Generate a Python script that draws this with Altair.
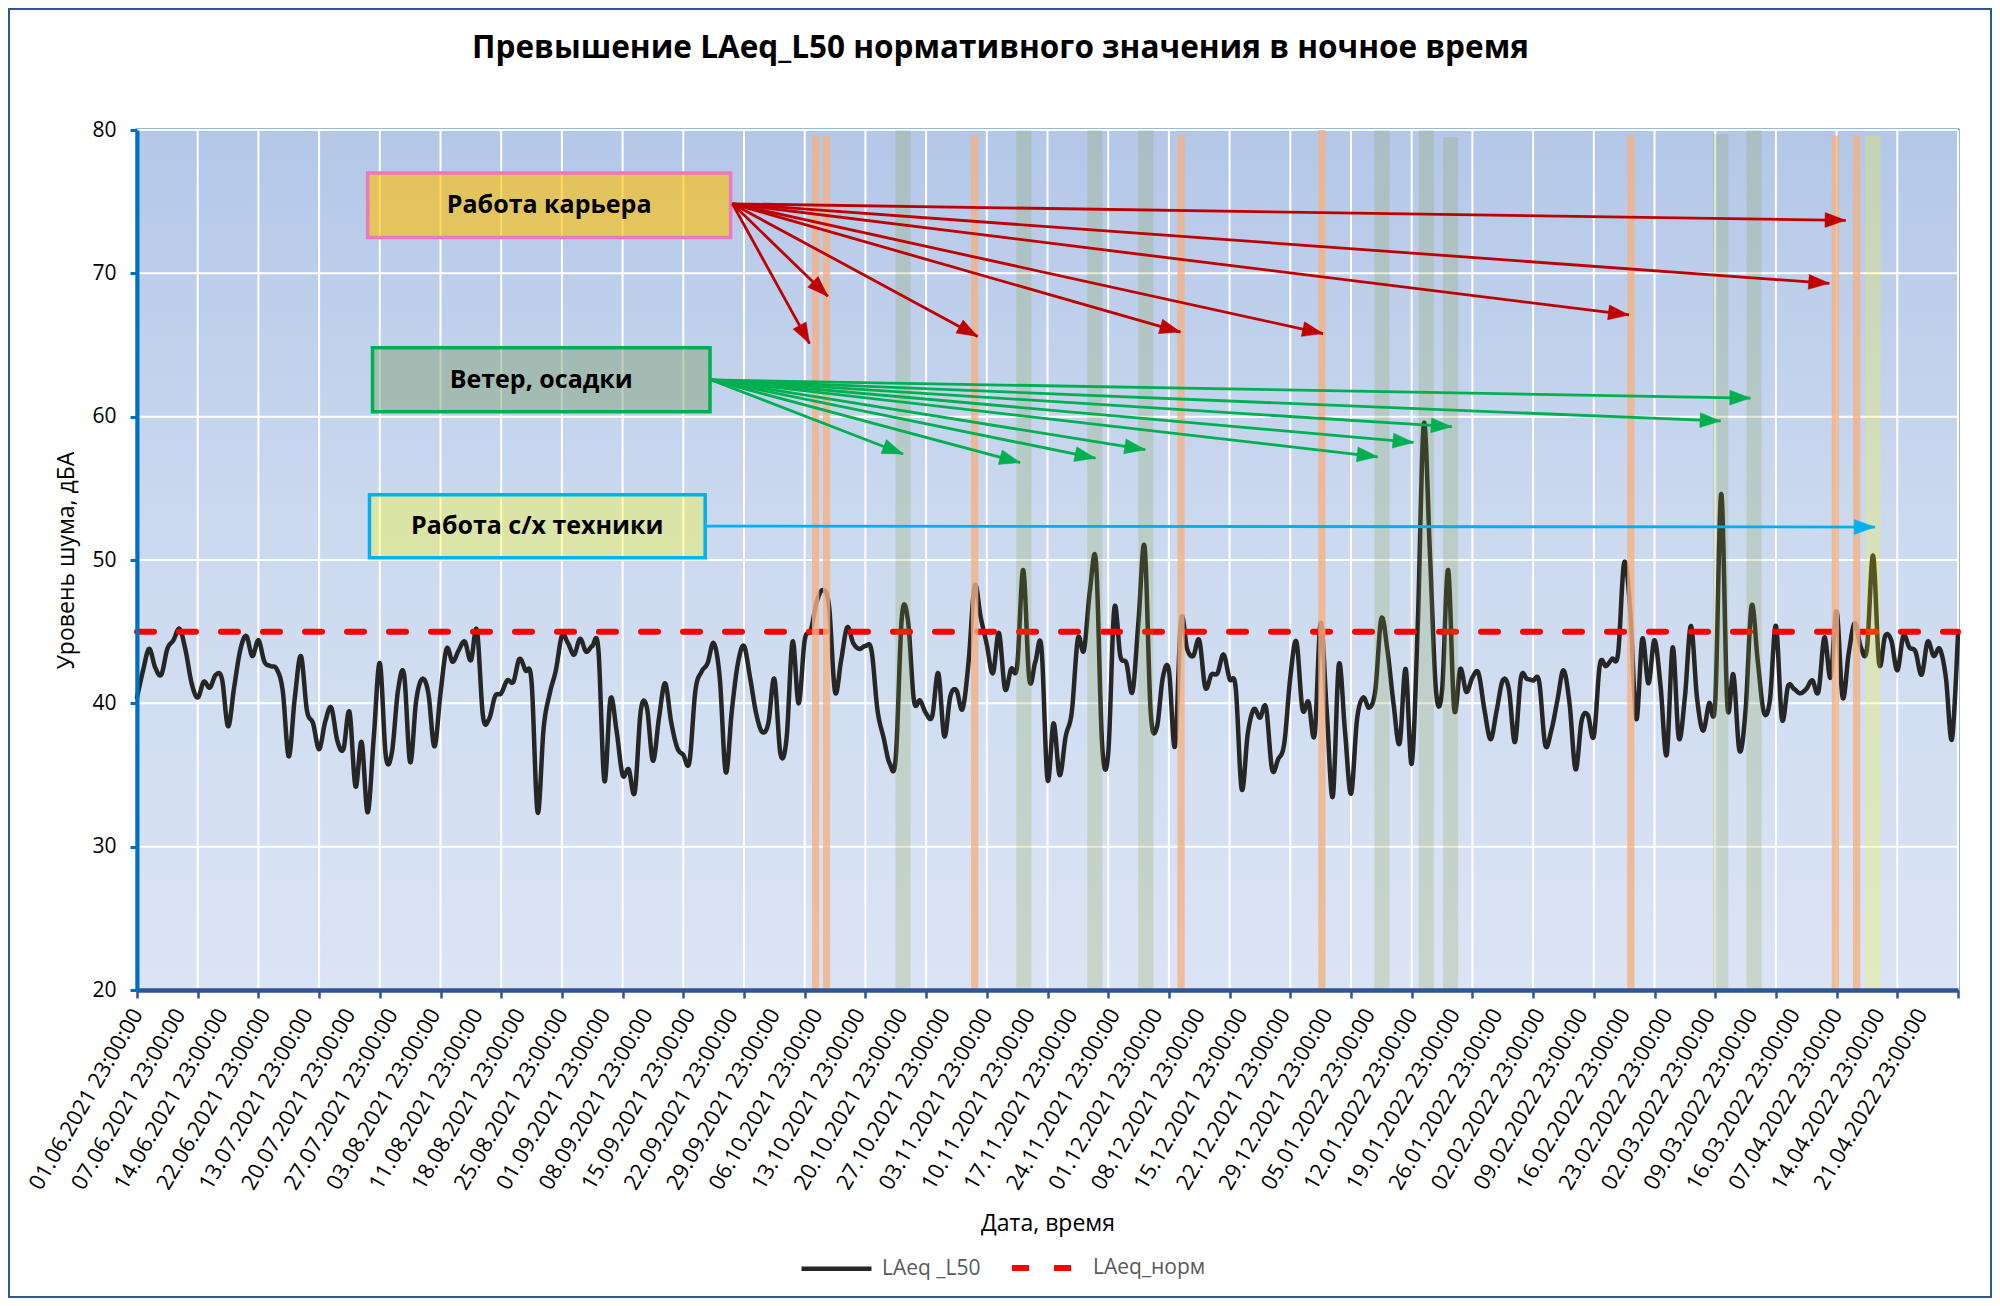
import json
import math
import altair as alt
import pandas as pd

# ---------------- data ----------------
L50 = [
    40.4, 42.3, 43.8, 42.5, 42.0, 43.8, 44.4, 45.2, 43.7, 41.4,
    40.4, 41.5, 41.1, 42.0, 41.7, 38.4, 41.1, 43.7, 44.7, 43.3,
    44.4, 42.9, 42.6, 42.4, 40.9, 36.3, 40.4, 43.3, 39.5, 38.6,
    36.8, 38.7, 39.7, 37.4, 36.8, 39.4, 34.2, 37.3, 32.4, 37.6,
    42.8, 36.3, 36.6, 40.9, 42.0, 35.9, 40.2, 41.7, 40.7, 37.0,
    40.7, 43.8, 42.9, 43.7, 44.3, 43.0, 45.1, 39.1, 38.9, 40.5,
    40.7, 41.6, 41.5, 43.1, 42.3, 41.5, 32.4, 38.3, 40.7, 42.3,
    44.7, 44.2, 43.4, 44.5, 43.6, 44.0, 43.8, 34.6, 40.3, 38.1,
    35.0, 35.4, 33.8, 39.5, 39.7, 36.0, 39.0, 41.4, 38.7, 36.9,
    36.4, 35.9, 40.9, 42.2, 42.8, 44.2, 41.8, 35.2, 39.5, 42.8,
    44.0, 41.8, 39.3, 38.0, 38.6, 41.7, 36.5, 37.5, 44.3, 40.0,
    44.4, 45.1, 47.1, 47.9, 46.8, 40.8, 43.0, 45.3, 44.2, 43.8,
    44.0, 43.7, 39.5, 37.6, 35.8, 36.2, 46.0, 45.8, 40.2, 40.2,
    39.3, 39.1, 42.1, 37.7, 40.5, 40.9, 39.6, 42.9, 48.2, 46.0,
    44.1, 42.1, 44.9, 41.0, 42.4, 42.6, 49.3, 41.7, 42.9, 43.9,
    34.7, 38.6, 35.0, 37.7, 39.4, 44.5, 43.7, 47.9, 49.8, 37.1,
    36.5, 46.6, 43.3, 42.8, 40.8, 45.8, 50.9, 39.4, 38.3, 41.8,
    42.3, 37.0, 45.8, 43.8, 43.3, 44.4, 41.1, 42.0, 42.1, 43.4,
    41.7, 41.1, 34.0, 37.9, 39.6, 39.0, 39.7, 35.4, 36.1, 37.2,
    41.8, 44.3, 39.6, 40.1, 37.8, 45.6, 39.5, 33.5, 42.7, 38.1,
    33.7, 38.9, 40.4, 39.7, 40.9, 45.9, 43.7, 40.0, 37.2, 42.4,
    35.8, 45.5, 59.5, 50.5, 40.9, 40.9, 49.3, 39.6, 42.4, 40.8,
    41.8, 42.1, 39.5, 37.5, 39.5, 41.6, 41.0, 37.3, 41.8, 41.7,
    41.6, 41.5, 37.1, 38.1, 40.2, 42.3, 40.0, 35.4, 38.8, 39.2,
    37.7, 42.7, 42.6, 43.1, 43.5, 49.8, 46.5, 38.9, 44.5, 41.4,
    44.4, 41.2, 36.4, 43.9, 37.6, 40.4, 45.4, 40.4, 38.1, 40.0,
    40.1, 54.6, 39.9, 42.0, 36.7, 39.5, 46.8, 43.0, 39.4, 40.2,
    45.4, 38.9, 41.2, 41.0, 40.7, 41.0, 41.6, 40.8, 44.6, 41.8,
    46.4, 40.4, 43.5, 45.6, 43.9, 43.8, 50.3, 42.8, 44.7, 44.4,
    42.3, 44.7, 43.9, 43.6, 42.0, 44.3, 43.3, 43.8, 41.8, 37.5,
    44.9,
]
NORM_VALUE = 45
SERIES = ["LAeq _L50", "LAeq_норм"]

X_LABEL_DATES = [
    "01.06.2021", "07.06.2021", "14.06.2021", "22.06.2021", "13.07.2021",
    "20.07.2021", "27.07.2021", "03.08.2021", "11.08.2021", "18.08.2021",
    "25.08.2021", "01.09.2021", "08.09.2021", "15.09.2021", "22.09.2021",
    "29.09.2021", "06.10.2021", "13.10.2021", "20.10.2021", "27.10.2021",
    "03.11.2021", "10.11.2021", "17.11.2021", "24.11.2021", "01.12.2021",
    "08.12.2021", "15.12.2021", "22.12.2021", "29.12.2021", "05.01.2022",
    "12.01.2022", "19.01.2022", "26.01.2022", "02.02.2022", "09.02.2022",
    "16.02.2022", "23.02.2022", "02.03.2022", "09.03.2022", "16.03.2022",
    "07.04.2022", "14.04.2022", "21.04.2022",
]
X_LABEL_TIME = "23:00:00"
LABEL_STEP = 7
GRID_X = list(range(0, 301, 10))
Y_TICKS = [20, 30, 40, 50, 60, 70, 80]

# event bands (category position, top value)
ORANGE_X = [111.8, 113.6, 138.0, 172.0, 195.2, 246.1, 279.8, 283.3]
ORANGE_TOP = [79.6, 79.6, 79.6, 79.6, 80.0, 79.6, 79.6, 79.6]
GREEN_X = [126.2, 146.1, 157.8, 166.2, 205.1, 212.4, 216.4, 260.9, 266.4]
GREEN_TOP = [80.0, 80.0, 80.0, 80.0, 80.0, 80.0, 79.5, 79.7, 80.0]
YELLOW_X = [286.0]
YELLOW_TOP = [79.6]

# annotation boxes (data coordinates)
BOX_TEXT = ["Работа карьера", "Ветер, осадки", "Работа с/х техники"]
BOX_X1 = [38.0, 38.8, 38.3]
BOX_X2 = [97.8, 94.4, 93.6]
BOX_Y1 = [72.5, 60.35, 50.15]
BOX_Y2 = [77.0, 64.8, 54.55]

# arrows (data coordinates)
RED_FROM = [98.1, 74.85]
RED_TO_X = [110.8, 113.8, 138.5, 171.9, 195.4, 245.8, 278.8, 281.5]
RED_TO_Y = [65.1, 68.4, 65.6, 65.9, 65.8, 67.1, 69.3, 73.7]
GREEN_FROM = [94.6, 62.56]
GREEN_TO_X = [126.2, 145.5, 157.9, 166.1, 204.4, 210.3, 216.6, 260.9, 265.8]
GREEN_TO_Y = [57.4, 56.8, 57.1, 57.7, 57.2, 58.2, 59.3, 59.7, 61.3]
BLUE_FROM = [93.9, 52.37]
BLUE_TO_X = [286.3]
BLUE_TO_Y = [52.3]

# ---------------- layout / style ----------------
FONT = "Open Sans"
W, H = 1821, 860
PAD = {"left": 129, "top": 122, "right": 34, "bottom": 308}
X_MAX = len(L50) - 1
XS = alt.Scale(domain=[0, X_MAX], nice=False, zero=False)
YS = alt.Scale(domain=[Y_TICKS[0], Y_TICKS[-1]], nice=False, zero=False)

labels_full = [d + " " + X_LABEL_TIME for d in X_LABEL_DATES]

x_axis = alt.Axis(
    values=list(range(0, X_MAX + 1)), tickCount=1000,
    labelExpr=f"datum.value % {LABEL_STEP} === 0 ? {json.dumps(labels_full)}[datum.value / {LABEL_STEP}] : ''",
    labelAngle=300, labelAlign="right", labelBaseline="middle",
    labelOverlap=False, labelBound=False, labelFlush=False, labelLimit=500,
    labelPadding=12, labelFont=FONT, labelFontSize=22, labelColor="#000000",
    tickSize=8, tickWidth=2.5, tickColor="#2f5597",
    tickOpacity={"condition": {"test": "datum.value % 10 === 0", "value": 1}, "value": 0},
    domainColor="#2f5597", domainWidth=4.5, grid=False,
    title="Дата, время", titleFont=FONT, titleFontSize=23, titleFontWeight="normal",
    titleColor="#000000", titleY=233, titleX=W / 2, titleBaseline="middle", titleAlign="center",
    zindex=1,
)
y_axis = alt.Axis(
    values=Y_TICKS, tickSize=7, tickWidth=3, tickColor="#0070c0",
    domainColor="#0070c0", domainWidth=4, grid=False,
    labelFont=FONT, labelFontSize=21, labelPadding=14, labelColor="#000000",
    title="Уровень шума, дБА", titleFont=FONT, titleFontSize=23, titleFontWeight="normal",
    titleColor="#000000", titleAngle=270, titleX=-71, titleY=H / 2,
    titleBaseline="middle", titleAlign="center", zindex=1,
)


def X(field):
    return alt.X(field, scale=XS)


def Y(field):
    return alt.Y(field, scale=YS)


# background gradient (carries the axes)
bg = alt.Chart(pd.DataFrame({"x0": [0], "x1": [X_MAX], "y0": [Y_TICKS[0]], "y1": [Y_TICKS[-1]]})).mark_rect(
    fill=alt.LinearGradient(
        gradient="linear",
        stops=[alt.GradientStop(color="#b3c7e8", offset=0),
               alt.GradientStop(color="#cbd9ef", offset=0.45),
               alt.GradientStop(color="#dbe4f4", offset=1)],
        x1=0, x2=0, y1=0, y2=1),
    strokeWidth=0,
).encode(x=alt.X("x0:Q", scale=XS, axis=x_axis), x2="x1:Q",
         y=alt.Y("y0:Q", scale=YS, axis=y_axis), y2="y1:Q")

grid_x = alt.Chart(pd.DataFrame({"g": GRID_X})).mark_rule(color="white", strokeWidth=2).encode(
    x=X("g:Q"))
grid_y = alt.Chart(pd.DataFrame({"g": Y_TICKS})).mark_rule(color="white", strokeWidth=2).encode(
    y=Y("g:Q"))

# lines
rows = []
for i, v in enumerate(L50):
    rows.append({"x": i, "v": v, "series": SERIES[0]})
for i in range(len(L50)):
    rows.append({"x": i, "v": NORM_VALUE, "series": SERIES[1]})
df_line = pd.DataFrame(rows)

legend = alt.Legend(
    orient="none", legendX=662, legendY=1100, direction="horizontal", title=None,
    symbolType="stroke", symbolSize=4900, symbolStrokeWidth=5,
    labelFont=FONT, labelFontSize=21, labelColor="#595959",
    columnPadding=19, labelOffset=8,
)
lines = alt.Chart(df_line).mark_line(interpolate="cardinal", strokeCap="round", strokeJoin="round").encode(
    x=X("x:Q"),
    y=Y("v:Q"),
    color=alt.Color("series:N", scale=alt.Scale(domain=SERIES, range=["#262626", "#ff0000"]), legend=legend),
    strokeDash=alt.StrokeDash("series:N", scale=alt.Scale(domain=SERIES, range=[[1, 0], [17, 25]]), legend=legend),
    strokeWidth=alt.StrokeWidth("series:N", scale=alt.Scale(domain=SERIES, range=[4.5, 6]), legend=None),
)


def band_layer(centers, tops, half, color, opacity):
    d = pd.DataFrame({
        "b1": [c - half for c in centers],
        "b2": [c + half for c in centers],
        "base": [Y_TICKS[0]] * len(centers),
        "top": tops,
    })
    return alt.Chart(d).mark_rect(fill=color, opacity=opacity, strokeWidth=0).encode(
        x=X("b1:Q"), x2="b2:Q", y=Y("base:Q"), y2="top:Q")


bands = [
    band_layer(GREEN_X, GREEN_TOP, 1.25, "#82a03c", 0.22),
    band_layer(YELLOW_X, YELLOW_TOP, 1.25, "#ffff00", 0.22),
    band_layer(ORANGE_X, ORANGE_TOP, 0.6, "#f4b183", 0.8),
]

BOX_STYLE = [
    {"fill": "#ffc000", "fo": 0.6, "stroke": "#ee78be"},
    {"fill": "#84a37a", "fo": 0.5, "stroke": "#00b050"},
    {"fill": "#ffff00", "fo": 0.3, "stroke": "#00b0f0"},
]
boxes = []
for k in range(len(BOX_TEXT)):
    d = pd.DataFrame({"x1": [BOX_X1[k]], "x2": [BOX_X2[k]], "y1": [BOX_Y1[k]], "y2": [BOX_Y2[k]],
                      "xc": [(BOX_X1[k] + BOX_X2[k]) / 2], "yc": [(BOX_Y1[k] + BOX_Y2[k]) / 2],
                      "t": [BOX_TEXT[k]]})
    st = BOX_STYLE[k]
    boxes.append(alt.Chart(d).mark_rect(fill=st["fill"], fillOpacity=st["fo"], stroke=st["stroke"],
                                        strokeWidth=3.5).encode(
        x=X("x1:Q"), x2="x2:Q", y=Y("y1:Q"), y2="y2:Q"))
    boxes.append(alt.Chart(d).mark_text(font=FONT, fontSize=25, fontWeight="bold", color="#000000",
                                        align="center", baseline="middle").encode(
        x=X("xc:Q"), y=Y("yc:Q"), text="t:N"))

ARROW_PATH = "M0,0L-1,-0.36L-1,0.36Z"
PX_X = W / X_MAX
PX_Y = H / (Y_TICKS[-1] - Y_TICKS[0])


def arrow_layers(start, tx, ty, color):
    d = pd.DataFrame({"xf": [start[0]] * len(tx), "yf": [start[1]] * len(tx), "xt": tx, "yt": ty})
    d["ang"] = [
        math.degrees(math.atan2(-(yt - start[1]) * PX_Y, (xt - start[0]) * PX_X)) % 360
        for xt, yt in zip(tx, ty)
    ]
    ln = alt.Chart(d).mark_rule(color=color, strokeWidth=2.8).encode(
        x=X("xf:Q"), y=Y("yf:Q"), x2="xt:Q", y2="yt:Q")
    hd = alt.Chart(d).mark_point(shape=ARROW_PATH, size=1700, filled=True, fill=color,
                                 stroke=color, strokeWidth=0.5, opacity=1).encode(
        x=X("xt:Q"), y=Y("yt:Q"), angle=alt.Angle("ang:Q", scale=None))
    return [ln, hd]


arrows = (arrow_layers(RED_FROM, RED_TO_X, RED_TO_Y, "#c00000")
          + arrow_layers(GREEN_FROM, GREEN_TO_X, GREEN_TO_Y, "#00b050")
          + arrow_layers(BLUE_FROM, BLUE_TO_X, BLUE_TO_Y, "#00b0f0"))

FRAME_TOP = -PAD["top"] + 1
frame = alt.Chart(pd.DataFrame({"a": [0]})).mark_rect(fillOpacity=0, stroke="#2f5597", strokeWidth=2).encode(
    x=alt.value(-PAD["left"] + 1), x2=alt.value(W + PAD["right"] - 1),
    y=alt.value(FRAME_TOP), y2=alt.value(H + PAD["bottom"] - 1))

# the title is placed relative to the top of all mark bounds (the frame),
# so its offset is negative (measured downwards from that edge)
title_offset = -81

chart = alt.layer(
    bg, grid_x, grid_y, lines, *bands, *boxes, *arrows, frame
).properties(
    width=W, height=H,
    title=alt.TitleParams(
        "Превышение LAeq_L50 нормативного значения в ночное время",
        font=FONT, fontSize=31.5, fontWeight="bold", color="#000000",
        anchor="middle", frame="group", dx=-47, offset=title_offset, baseline="alphabetic"),
    autosize=alt.AutoSizeParams(type="none"),
    padding=PAD,
    background="white",
).configure_view(stroke="#2e75b6", strokeWidth=3)

chart.save("out.html", embed_options={"renderer": "svg", "actions": False})
